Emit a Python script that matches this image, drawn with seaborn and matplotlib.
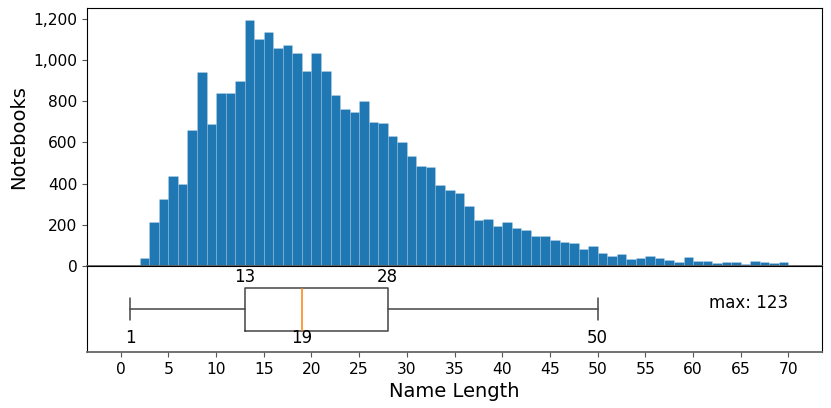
import numpy as np
import matplotlib
matplotlib.use("Agg")
import matplotlib.pyplot as plt
import seaborn as sns
from matplotlib.ticker import FuncFormatter

# Histogram data: name length (bin start) -> notebook count
lengths = list(range(2, 70))
counts = [37, 212, 324, 437, 400, 659, 943, 690, 839, 839, 899,
          1192, 1104, 1135, 1056, 1073, 1033, 945, 1033, 947, 831,
          761, 747, 800, 701, 692, 632, 603, 534, 484, 481, 393,
          371, 357, 291, 224, 227, 194, 214, 186, 173, 146, 146,
          126, 118, 110, 83, 100, 64, 51, 58, 36, 40, 50, 37,
          29, 21, 42, 27, 27, 16, 21, 22, 12, 26, 22, 17, 19]
bin_edges = list(range(2, 71))

# Box plot summary statistics
box_whislo = 1
box_q1 = 13
box_med = 19
box_q3 = 28
box_whishi = 50
max_value = 123

x_ticks = list(range(0, 71, 5))

sns.set_style("ticks")
plt.rcParams['font.family'] = ['DejaVu Sans']
plt.rcParams['text.color'] = 'black'
plt.rcParams['axes.labelcolor'] = 'black'
plt.rcParams['xtick.labelcolor'] = 'black'
plt.rcParams['ytick.labelcolor'] = 'black'
plt.rcParams['xtick.color'] = '#555555'
plt.rcParams['ytick.color'] = '#555555'

fig, (ax1, ax2) = plt.subplots(
    2, 1, sharex=True, figsize=(8.31, 4.08), dpi=100,
    gridspec_kw=dict(height_ratios=[3, 1], hspace=0))
fig.subplots_adjust(left=0.105, right=0.989, top=0.980, bottom=0.137)

sns.histplot(x=lengths, weights=counts, bins=bin_edges, ax=ax1,
             color="#1f77b4", alpha=1.0, edgecolor=(1, 1, 1, 0.22),
             linewidth=0.5)
ax1.set_ylabel("Notebooks", fontsize=14)
ax1.set_xlabel("")
ax1.yaxis.set_major_formatter(FuncFormatter(lambda v, p: f"{v:,.0f}"))
ax1.tick_params(axis="y", labelsize=11.2)
ax1.tick_params(axis="x", bottom=False, labelbottom=False)

line_col = "#444444"
stats = [dict(whislo=box_whislo, q1=box_q1, med=box_med, q3=box_q3,
              whishi=box_whishi, fliers=[])]
ax2.bxp(stats, vert=False, widths=0.5, showfliers=False,
        boxprops=dict(color=line_col, linewidth=1.1),
        whiskerprops=dict(color=line_col, linewidth=1.1),
        capprops=dict(color=line_col, linewidth=1.1),
        medianprops=dict(color="#ff7f0e", linewidth=1.1))
ax2.set_ylim(0.5, 1.5)
ax2.set_yticks([])
ax2.set_xlim(-3.5, 73.5)
ax2.set_xticks(x_ticks)
ax2.set_xticklabels([str(t) for t in x_ticks])
ax2.tick_params(axis="x", labelsize=11.2)
ax2.set_xlabel("Name Length", fontsize=14)

fs = 12
ax2.text(box_q1, 1.37, str(box_q1), ha="center", va="center", fontsize=fs)
ax2.text(box_q3, 1.37, str(box_q3), ha="center", va="center", fontsize=fs)
ax2.text(box_med, 0.66, str(box_med), ha="center", va="center", fontsize=fs)
ax2.text(box_whislo, 0.66, str(box_whislo), ha="center", va="center", fontsize=fs)
ax2.text(box_whishi, 0.66, str(box_whishi), ha="center", va="center", fontsize=fs)
ax2.text(70, 1.07, f"max: {max_value}", ha="right", va="center", fontsize=fs)

for ax in (ax1, ax2):
    for name, s in ax.spines.items():
        s.set_visible(True)
        s.set_color("black")
    ax.spines["bottom"].set_color("#666666")
    ax.spines["bottom"].set_linewidth(1.3)

fig.savefig("out.png", dpi=100)
